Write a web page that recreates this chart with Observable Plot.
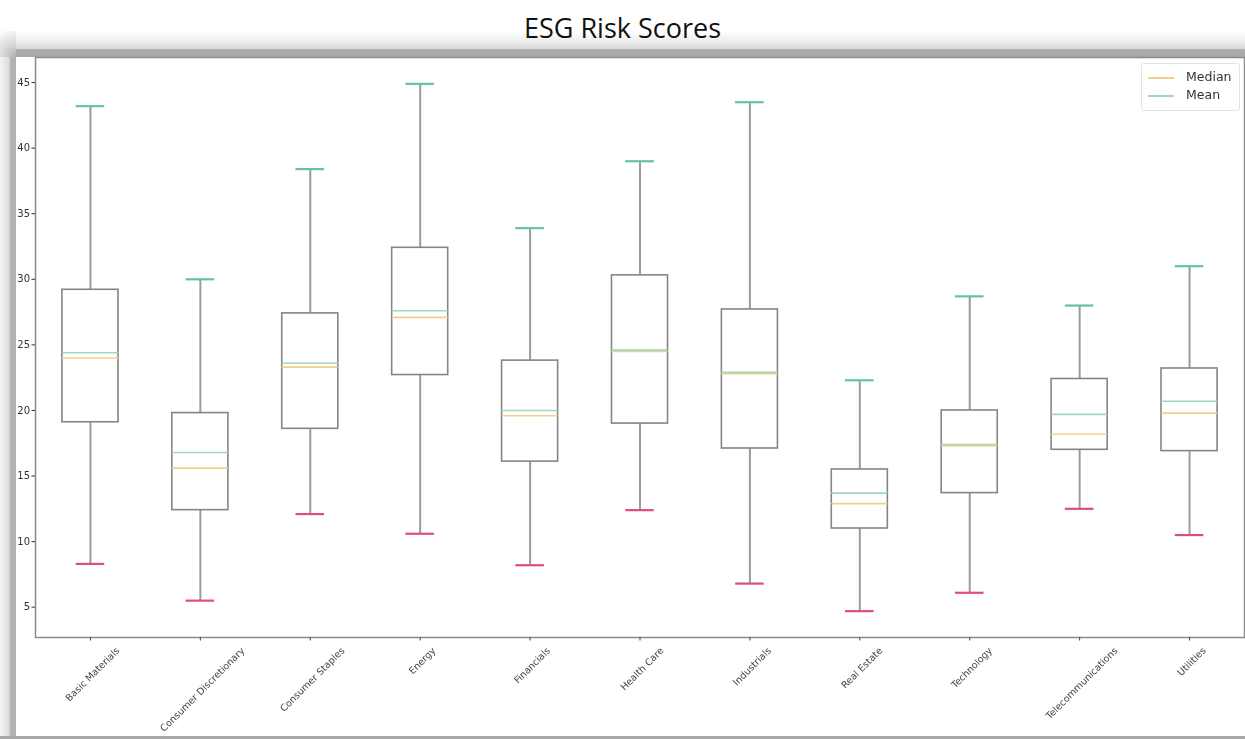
<!DOCTYPE html>
<html>
<head>
<meta charset="utf-8">
<script src="https://cdn.jsdelivr.net/npm/d3@7"></script>
<script src="https://cdn.jsdelivr.net/npm/@observablehq/plot@0.6"></script>
<style>
  html, body { margin: 0; padding: 0; background: #fff; }
  #page { position: relative; width: 1245px; height: 739px; overflow: hidden; background: #fff; }
  #title { position: absolute; left: 0; top: 14px; width: 1245px; text-align: center; z-index: 3;
           font-family: "Open Sans", "Liberation Sans", sans-serif; font-size: 27px; line-height: 28px; color: #111; }
  #shadowTop { position: absolute; left: 0; top: 31px; width: 1245px; height: 26px;
               background: linear-gradient(to bottom, #ffffff 0%, #f4f4f4 25%, #e8e8e8 50%, #d9d9d9 68%, #ababab 72%, #a9a9a9 100%); }
  #shadowLeft { position: absolute; left: 0; top: 31px; width: 16px; height: 708px;
                background: linear-gradient(to right, #f4f4f4 0%, #e6e6e6 35%, #d9d9d9 58%, #b3b3b3 64%, #b0b0b0 100%); }
  #shadowCorner { position: absolute; left: 0; top: 31px; width: 16px; height: 26px;
                  background: radial-gradient(circle at 100% 100%, #b0b0b0 0%, #dadada 45%, #f4f4f4 85%, #ffffff 100%); }
  #shadowBottom { position: absolute; left: 0; top: 736px; width: 1245px; height: 3px; background: #a9a9a9; }
  #chart { position: absolute; left: 16px; top: 57px; width: 1229px; height: 679px; background: #fff;
           filter: blur(0.45px); }
  #legend { position: absolute; left: 1125px; top: 6px; width: 97px; height: 46px;
            border: 1px solid #e3e3e3; border-radius: 3px; background: #fff;
            font-family: "DejaVu Sans", sans-serif; font-size: 12.5px; color: #333; }
  .lg-row { position: absolute; left: 6px; height: 16px; }
  .lg-line { position: absolute; left: 0; top: 8px; width: 26px; height: 1.5px; }
  .lg-text { position: absolute; left: 38px; top: 0; white-space: nowrap; }
</style>
</head>
<body>
<div id="page">
  <div id="title">ESG Risk Scores</div>
  <div id="shadowTop"></div>
  <div id="shadowLeft"></div>
  <div id="shadowCorner"></div>
  <div id="shadowBottom"></div>
  <div id="chart"></div>
</div>
<script>
// ESG risk score distribution per sector (box-and-whisker summary)
const categories = [
  "Basic Materials", "Consumer Discretionary", "Consumer Staples", "Energy",
  "Financials", "Health Care", "Industrials", "Real Estate", "Technology",
  "Telecommunications", "Utilities"
];
const whiskerLow  = [8.3, 5.5, 12.1, 10.6, 8.2, 12.4, 6.8, 4.7, 6.1, 12.5, 10.5];
const q1          = [19.1, 12.4, 18.6, 22.7, 16.1, 19.0, 17.1, 11.0, 13.7, 17.0, 16.9];
const medians     = [24.0, 15.6, 23.3, 27.1, 19.6, 24.5, 22.8, 12.9, 17.3, 18.2, 19.8];
const means       = [24.4, 16.8, 23.6, 27.6, 20.0, 24.6, 22.9, 13.7, 17.4, 19.7, 20.7];
const q3          = [29.2, 19.8, 27.4, 32.4, 23.8, 30.3, 27.7, 15.5, 20.0, 22.4, 23.2];
const whiskerHigh = [43.2, 30.0, 38.4, 44.9, 33.9, 39.0, 43.5, 22.3, 28.7, 28.0, 31.0];
const yTicks = [5, 10, 15, 20, 25, 30, 35, 40, 45];

const rows = categories.map((sector, i) => ({
  sector,
  low: whiskerLow[i], q1: q1[i], median: medians[i], mean: means[i], q3: q3[i], high: whiskerHigh[i]
}));

const W = 1229, H = 679;
const bandW = (W - 19 - 1) / categories.length;
const boxInset = bandW * 0.245;
const capInset = bandW * 0.37;

const colors = {
  whisker: "#9b9b9b",
  box: "#858585",
  median: "#f3cf8f",
  mean: "#9fd8bd",
  capHigh: "#63c3a2",
  capLow: "#de4f76"
};

const chart = Plot.plot({
  width: W,
  height: H,
  marginLeft: 19,
  marginRight: 1,
  marginTop: 0,
  marginBottom: 99,
  style: { fontFamily: "DejaVu Sans, sans-serif", background: "transparent", overflow: "visible" },
  x: { type: "band", domain: categories, padding: 0, round: false },
  y: { domain: [2.69, 46.91] },
  marks: [
    // whiskers
    Plot.ruleX(rows, { x: "sector", y1: "low", y2: "q1", stroke: colors.whisker, strokeWidth: 2 }),
    Plot.ruleX(rows, { x: "sector", y1: "q3", y2: "high", stroke: colors.whisker, strokeWidth: 2 }),
    // boxes
    Plot.barY(rows, { x: "sector", y1: "q1", y2: "q3", fill: "white", stroke: colors.box, strokeWidth: 1.6,
                      insetLeft: boxInset, insetRight: boxInset }),
    // median and mean lines
    Plot.tickY(rows, { x: "sector", y: "median", stroke: colors.median, strokeWidth: 1.6,
                       insetLeft: boxInset, insetRight: boxInset }),
    Plot.tickY(rows, { x: "sector", y: "mean", stroke: colors.mean, strokeWidth: 1.6,
                       insetLeft: boxInset, insetRight: boxInset }),
    // whisker caps
    Plot.tickY(rows, { x: "sector", y: "high", stroke: colors.capHigh, strokeWidth: 2.2,
                       insetLeft: capInset, insetRight: capInset }),
    Plot.tickY(rows, { x: "sector", y: "low", stroke: colors.capLow, strokeWidth: 2.2,
                       insetLeft: capInset, insetRight: capInset }),
    Plot.frame({ stroke: "#8a8a8a", strokeWidth: 1.5 }),
    Plot.axisY({ ticks: yTicks, tickSize: 3.5, tickPadding: 2, fontSize: 10, color: "#333", label: null }),
    Plot.axisX({ tickSize: 3.5, tickPadding: 3, tickRotate: -45, fontSize: 9.5, color: "#444", label: null })
  ]
});

const host = document.getElementById("chart");
host.appendChild(chart);

// Centre each rotated sector label under its tick
const bottomY = H - 99;
chart.querySelectorAll('g[aria-label="x-axis tick label"] text').forEach((t) => {
  const m = /translate\(([-\d.]+),\s*([-\d.]+)\)/.exec(t.getAttribute("transform") || "");
  const x = m ? +m[1] : 0;
  const pm = /translate\(([-\d.]+),\s*([-\d.]+)\)/.exec(t.parentNode.getAttribute("transform") || "");
  const offY = pm ? +pm[2] : 0;
  const len = t.getComputedTextLength();
  const half = (len + 11) * Math.SQRT1_2 / 2;
  t.setAttribute("text-anchor", "middle");
  t.setAttribute("dy", "0.32em");
  t.setAttribute("transform", `translate(${x},${bottomY + 6 + half - offY}) rotate(-45)`);
});

// Legend
const legend = document.createElement("div");
legend.id = "legend";
[["Median", colors.median, 5], ["Mean", colors.mean, 23]].forEach(([label, color, top]) => {
  const row = document.createElement("div");
  row.className = "lg-row";
  row.style.top = top + "px";
  const line = document.createElement("div");
  line.className = "lg-line";
  line.style.background = color;
  const text = document.createElement("div");
  text.className = "lg-text";
  text.textContent = label;
  row.appendChild(line);
  row.appendChild(text);
  legend.appendChild(row);
});
host.appendChild(legend);
</script>
</body>
</html>
